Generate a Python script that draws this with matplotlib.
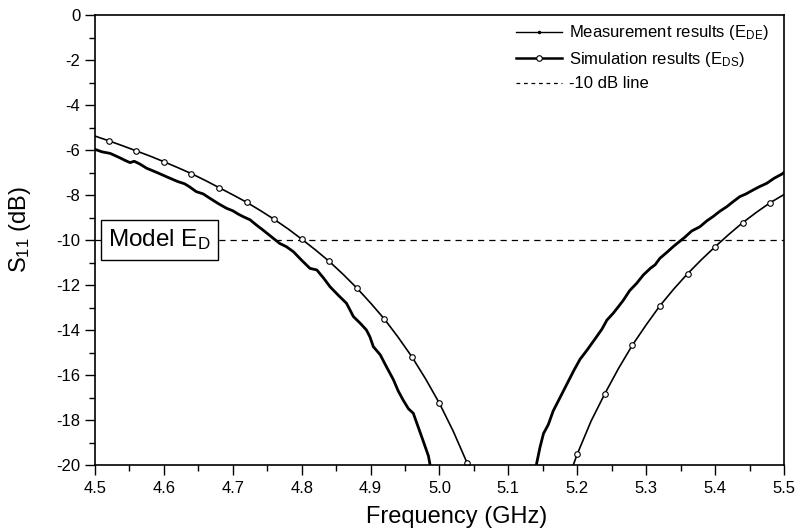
import matplotlib
matplotlib.use('Agg')
import matplotlib.pyplot as plt
from matplotlib.lines import Line2D
import numpy as np

plt.rcParams['font.family'] = ['Liberation Sans', 'DejaVu Sans']
plt.rcParams['mathtext.fontset'] = 'custom'
plt.rcParams['mathtext.rm'] = 'Liberation Sans'
plt.rcParams['mathtext.it'] = 'Liberation Sans:italic'
plt.rcParams['mathtext.bf'] = 'Liberation Sans:bold'

# Simulation (E_DS) - low branch
sim_freq_low = [4.50, 4.52, 4.54, 4.56, 4.58, 4.60, 4.62, 4.64, 4.66, 4.68, 4.70, 4.72,
                4.74, 4.76, 4.78, 4.80, 4.82, 4.84, 4.86, 4.88, 4.90, 4.92, 4.94, 4.96,
                4.98, 5.00, 5.02, 5.04, 5.06]
sim_s11_low = [-5.38, -5.59, -5.81, -6.04, -6.27, -6.52, -6.78, -7.05, -7.35, -7.67, -7.99, -8.32,
               -8.69, -9.08, -9.50, -9.96, -10.44, -10.95, -11.52, -12.13, -12.80, -13.51, -14.32, -15.19,
               -16.18, -17.26, -18.50, -19.90, -21.40]
# Simulation (E_DS) - high branch
sim_freq_high = [5.18, 5.20, 5.22, 5.24, 5.26, 5.28, 5.30, 5.32, 5.34, 5.36, 5.38, 5.40,
                 5.42, 5.44, 5.46, 5.48, 5.50]
sim_s11_high = [-21.20, -19.51, -18.05, -16.83, -15.70, -14.67, -13.77, -12.92, -12.18, -11.50, -10.88, -10.30,
                -9.75, -9.23, -8.77, -8.34, -7.98]

# Measurement (E_DE) - low branch
meas_freq_low = [4.500, 4.510, 4.522, 4.535, 4.545, 4.551, 4.557, 4.565, 4.575, 4.590, 4.604, 4.620,
                 4.630, 4.637, 4.647, 4.657, 4.667, 4.680, 4.691, 4.700, 4.708, 4.715, 4.725, 4.735,
                 4.744, 4.759, 4.768, 4.778, 4.788, 4.800, 4.812, 4.822, 4.832, 4.841, 4.853, 4.865,
                 4.870, 4.875, 4.885, 4.894, 4.899, 4.904, 4.914, 4.923, 4.933, 4.940, 4.947, 4.955,
                 4.962, 4.969, 4.976, 4.984, 4.990]
meas_s11_low = [-5.97, -6.08, -6.15, -6.33, -6.48, -6.56, -6.50, -6.62, -6.81, -7.00, -7.19, -7.40,
                -7.50, -7.63, -7.85, -7.95, -8.15, -8.40, -8.59, -8.70, -8.85, -8.96, -9.10, -9.35,
                -9.56, -9.93, -10.15, -10.30, -10.52, -10.90, -11.26, -11.33, -11.70, -12.07, -12.45, -12.81,
                -13.10, -13.40, -13.70, -14.00, -14.30, -14.74, -15.10, -15.63, -16.20, -16.70, -17.10, -17.50,
                -17.70, -18.30, -18.90, -19.60, -20.60]
# Measurement (E_DE) - high branch
meas_freq_high = [5.138, 5.141, 5.146, 5.151, 5.158, 5.165, 5.175, 5.185, 5.195, 5.204, 5.214, 5.228,
                  5.236, 5.243, 5.252, 5.260, 5.267, 5.276, 5.286, 5.296, 5.306, 5.313, 5.320, 5.330,
                  5.339, 5.347, 5.356, 5.366, 5.378, 5.388, 5.397, 5.407, 5.417, 5.426, 5.436, 5.445,
                  5.455, 5.465, 5.475, 5.486, 5.497, 5.500]
meas_s11_high = [-21.0, -19.93, -19.2, -18.6, -18.2, -17.6, -17.0, -16.4, -15.8, -15.3, -14.9, -14.3,
                 -13.95, -13.56, -13.26, -12.95, -12.67, -12.25, -11.93, -11.55, -11.26, -11.10, -10.81, -10.55,
                 -10.30, -10.10, -9.88, -9.60, -9.41, -9.15, -8.96, -8.72, -8.52, -8.30, -8.07, -7.95,
                 -7.78, -7.62, -7.48, -7.25, -7.07, -7.00]

ref_level = -10
x_ticks = [4.5, 4.6, 4.7, 4.8, 4.9, 5.0, 5.1, 5.2, 5.3, 5.4, 5.5]
y_ticks = [0, -2, -4, -6, -8, -10, -12, -14, -16, -18, -20]

fig = plt.figure(figsize=(7.96, 5.32), dpi=100)
ax = fig.add_axes([0.1193, 0.1259, 0.8656, 0.8459])

for f, s in [(meas_freq_low, meas_s11_low), (meas_freq_high, meas_s11_high)]:
    ax.plot(f, s, color='black', lw=2.0, solid_joinstyle='round')
for f, s in [(sim_freq_low, sim_s11_low), (sim_freq_high, sim_s11_high)]:
    ax.plot(f, s, color='black', lw=1.2, marker='o', markersize=4, markerfacecolor='white',
            markeredgecolor='black', markeredgewidth=0.8, markevery=(1, 2))

ax.axhline(ref_level, color='black', lw=0.9, dashes=(5, 4), zorder=1)

ax.text(4.5195, ref_level, r'Model E$_{\mathregular{D}}$', fontsize=17.5, va='center', ha='left',
        bbox=dict(boxstyle='square,pad=0.3', fc='white', ec='black', lw=1.0), zorder=5)

ax.set_xlim(4.5, 5.5)
ax.set_ylim(-20, 0)
ax.set_xticks(x_ticks)
ax.set_xticklabels([f'{v:.1f}' for v in x_ticks])
ax.set_yticks(y_ticks)
ax.set_yticklabels([f'{v:d}' for v in y_ticks])
ax.set_xticks(np.arange(4.55, 5.5, 0.1), minor=True)
ax.set_yticks(np.arange(-19, 0, 2), minor=True)
ax.tick_params(which='major', direction='out', length=7, width=1.0, labelsize=12)
ax.tick_params(axis='x', which='major', pad=4.5)
ax.tick_params(which='minor', direction='out', length=4, width=1.0)
for sp in ax.spines.values():
    sp.set_linewidth(1.2)

ax.set_xlabel('Frequency (GHz)', fontsize=17)
ax.xaxis.set_label_coords(0.525, -0.09)
ax.set_ylabel(r'S$_{\mathregular{11}}$ (dB)', fontsize=17)
ax.yaxis.set_label_coords(-0.09, 0.524)

handles = [
    Line2D([], [], color='black', lw=1.0, marker='.', markersize=3),
    Line2D([], [], color='black', lw=1.8, marker='o', markersize=4, markerfacecolor='white',
           markeredgewidth=0.8),
    Line2D([], [], color='black', lw=0.9, dashes=(3, 3)),
]
labels = [r'Measurement results (E$_{\mathregular{DE}}$)',
          r'Simulation results (E$_{\mathregular{DS}}$)',
          '-10 dB line']
ax.legend(handles, labels, loc='upper right', frameon=False, fontsize=12,
          handlelength=2.8, handletextpad=0.4, labelspacing=0.45,
          borderaxespad=0.1, bbox_to_anchor=(0.99, 1.0))

fig.savefig('out.png', dpi=100)
